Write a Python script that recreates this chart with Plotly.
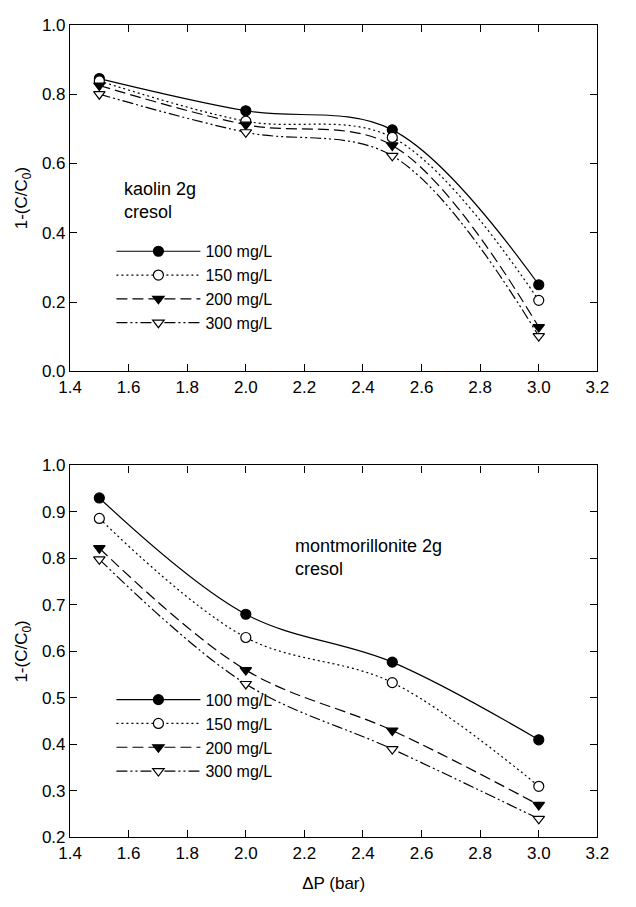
import plotly.graph_objects as go

pressure = [1.5, 2.0, 2.5, 3.0]
series_names = ["100 mg/L", "150 mg/L", "200 mg/L", "300 mg/L"]

kaolin_100 = [0.845, 0.752, 0.697, 0.250]
kaolin_150 = [0.838, 0.722, 0.675, 0.205]
kaolin_200 = [0.825, 0.712, 0.652, 0.128]
kaolin_300 = [0.800, 0.690, 0.622, 0.102]

mont_100 = [0.930, 0.680, 0.577, 0.410]
mont_150 = [0.886, 0.630, 0.533, 0.310]
mont_200 = [0.822, 0.560, 0.430, 0.270]
mont_300 = [0.798, 0.530, 0.390, 0.240]

x_ticks = [1.4, 1.6, 1.8, 2.0, 2.2, 2.4, 2.6, 2.8, 3.0, 3.2]
y_ticks_top = [0.0, 0.2, 0.4, 0.6, 0.8, 1.0]
y_ticks_bottom = [0.2, 0.3, 0.4, 0.5, 0.6, 0.7, 0.8, 0.9, 1.0]

styles = [
    dict(dash="solid", symbol="circle", fill="black"),
    dict(dash="2px,3px", symbol="circle", fill="white"),
    dict(dash="11px,5px", symbol="triangle-down", fill="black"),
    dict(dash="11px,3px,2px,3px,2px,3px", symbol="triangle-down", fill="white"),
]

FONT = "Liberation Sans, Arial, Helvetica, sans-serif"
fig = go.Figure()

def add_group(values, xa, ya, legend):
    for name, ys, st in zip(series_names, values, styles):
        fig.add_trace(go.Scatter(
            x=pressure, y=ys, name=name, mode="lines+markers",
            xaxis=xa, yaxis=ya, legend=legend,
            line=dict(color="black", width=1.2, dash=st["dash"], shape="spline", smoothing=1.0),
            marker=dict(symbol=st["symbol"], size=10,
                        color=st["fill"], line=dict(color="black", width=1.2)),
        ))

add_group([kaolin_100, kaolin_150, kaolin_200, kaolin_300], "x", "y", "legend")
add_group([mont_100, mont_150, mont_200, mont_300], "x2", "y2", "legend2")

axis_common = dict(
    showline=True, linecolor="black", linewidth=1.2, mirror="ticks",
    ticks="inside", ticklen=7, tickcolor="black", tickwidth=1,
    showgrid=False, zeroline=False,
    tickfont=dict(family=FONT, size=17, color="black"),
)

W = 636.0
H = 907.0
def dom(top_px, bot_px):
    return [1 - bot_px / H, 1 - top_px / H]

XL, XR = 52, 600

fig.update_layout(
    width=636, height=907,
    margin=dict(l=0, r=0, t=0, b=0),
    paper_bgcolor="white", plot_bgcolor="white",
    font=dict(family=FONT, size=16, color="black"),
    xaxis=dict(axis_common, domain=[XL / W, XR / W], range=[1.4, 3.2],
               tickvals=x_ticks, tickformat=".1f", anchor="y"),
    yaxis=dict(axis_common, domain=dom(8, 362), range=[0, 1.0],
               tickvals=y_ticks_top, tickformat=".1f", anchor="x",
               title=dict(text="1-(C/C<sub>0</sub>)", font=dict(family=FONT, size=17), standoff=9)),
    xaxis2=dict(axis_common, domain=[XL / W, XR / W], range=[1.4, 3.2],
                tickvals=x_ticks, tickformat=".1f", anchor="y2",
                title=dict(text="ΔP (bar)", font=dict(family=FONT, size=17), standoff=15)),
    yaxis2=dict(axis_common, domain=dom(458, 838), range=[0.2, 1.0],
                tickvals=y_ticks_bottom, tickformat=".1f", anchor="x2",
                title=dict(text="1-(C/C<sub>0</sub>)", font=dict(family=FONT, size=17), standoff=9)),
    legend=dict(x=95 / W, y=1 - 222 / H, xanchor="left", yanchor="top",
                bgcolor="rgba(0,0,0,0)", itemwidth=84, tracegroupgap=0,
                font=dict(family=FONT, size=16, color="black")),
    legend2=dict(x=95 / W, y=1 - 680 / H, xanchor="left", yanchor="top",
                 bgcolor="rgba(0,0,0,0)", itemwidth=84, tracegroupgap=0,
                 font=dict(family=FONT, size=16, color="black")),
    showlegend=True,
    annotations=[
        dict(text="kaolin 2g<br>cresol", xref="paper", yref="paper",
             x=106 / W, y=1 - 163 / H, xanchor="left", yanchor="top", showarrow=False,
             align="left", font=dict(family=FONT, size=18, color="black")),
        dict(text="montmorillonite 2g<br>cresol", xref="paper", yref="paper",
             x=284 / W, y=1 - 528 / H, xanchor="left", yanchor="top", showarrow=False,
             align="left", font=dict(family=FONT, size=18, color="black")),
    ],
)

fig.write_html("out.html")
